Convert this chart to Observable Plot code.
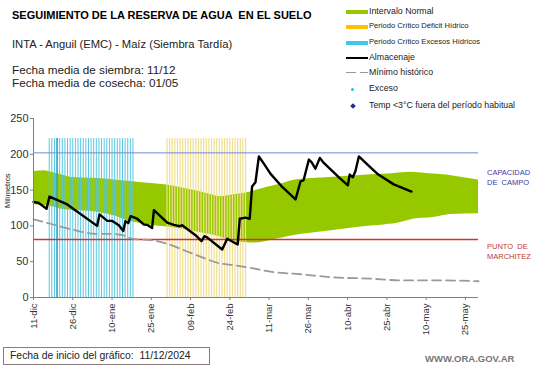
<!DOCTYPE html>
<html><head><meta charset="utf-8">
<script src="https://cdn.jsdelivr.net/npm/d3@7"></script>
<script src="https://cdn.jsdelivr.net/npm/@observablehq/plot@0.6"></script>
<style>
body{margin:0;background:#fff;font-family:"Liberation Sans",Arial,sans-serif;}
#wrap{position:relative;width:541px;height:368px;overflow:hidden;}
#wrap svg{position:absolute;left:0;top:0;}
.t{position:absolute;white-space:nowrap;line-height:1;color:#222;}
.sw{position:absolute;}
</style></head><body><div id="wrap"></div>
<script>
// ---- data (days counted from the chart start date 11/12/2024) ----
const startYear = 2024, startMonth = 11, startDay = 11;
const endDay = 170;
const tickDays = [0, 15, 30, 45, 60, 75, 90, 105, 120, 135, 150, 165];
const tickLabels = ["11-dic", "26-dic", "10-ene", "25-ene", "09-feb", "24-feb", "11-mar", "26-mar", "10-abr", "25-abr", "10-may", "25-may"];
const yTicks = [0, 50, 100, 150, 200, 250];

const storageDays = [0, 2, 5, 6.1, 12.9, 24.3, 25.2, 28.2, 30.1, 32.6, 34.3, 35.1, 36.2, 37.1, 39.6, 42.1, 43.4, 45.3, 46, 51.1, 53.6, 55.9, 56.8, 61.9, 64.2, 65.3, 66.3, 72.1, 74, 78, 78.8, 81, 82.6, 83.5, 84.8, 86.1, 88, 90.5, 94.6, 100.1, 102, 103.2, 105.2, 106.2, 107.7, 109.4, 110.9, 113.8, 116.9, 120.1, 120.8, 122, 123, 124.3, 127.5, 131.3, 137.6, 144.4];
const storageValues = [133.5, 132, 124, 141, 130, 100, 116, 107, 107, 101, 93, 106.5, 104, 113.5, 110, 102, 101.5, 97, 122, 104.7, 101.5, 99.5, 101, 87, 78.6, 85.6, 84, 67, 82, 74, 110, 111.5, 110, 155, 161, 197, 187, 173, 156, 137, 162, 164, 192.6, 189, 180, 195, 188, 178, 167, 156.7, 171.7, 168, 176.7, 197, 186, 173, 158, 148];

const normalUpperDays = [0, 4.5, 14, 26, 38, 51, 64, 70.5, 77, 83, 90.5, 95, 100, 113, 125, 137, 144, 151, 158, 170];
const normalUpper = [176, 177, 168, 166, 161.5, 157, 147.5, 141, 144, 147.5, 155, 159, 164, 167.5, 170.5, 173, 175, 173, 171, 164];
const normalLowerDays = [0, 5, 12, 24, 31, 37, 45, 51, 62, 70, 77, 84, 88, 91, 100, 113, 125, 133, 138, 146, 151, 159, 170];
const normalLower = [130, 128, 122.5, 119.5, 114, 106, 101, 98.6, 92, 86, 78, 76, 77.5, 80, 87, 93, 98.6, 101, 103, 110, 111, 116, 117];

const minDays = [0, 6.5, 14.7, 23.7, 29.5, 34, 38, 45, 51, 57.5, 64, 70.4, 76.8, 83, 90.5, 102, 115, 128, 140, 153, 170];
const minValues = [109, 103, 95, 89, 89, 87, 82, 80, 75, 66, 56.7, 48.3, 45, 41.3, 36, 32.5, 28, 26.5, 24, 24, 22.7];

const excessCritDays = [6, 7, 8, 9, 10, 11, 12, 13, 14, 15, 16, 17, 18, 19, 20, 21, 22, 23, 24, 25, 26, 27, 28, 29, 30, 31, 32, 33, 34, 35, 36, 37, 38];
const excessMarkDays = [9];
const deficitCritDays = [51, 52, 53, 54, 55, 56, 57, 58, 59, 60, 61, 62, 63, 64, 65, 66, 67, 68, 69, 70, 71, 72, 73, 74, 75, 76, 77, 78, 79, 80, 81];
const criticalTop = 222;
const fieldCapacity = 202;
const wiltingPoint = 81;

// ---- build ----
const t0 = Date.UTC(startYear, startMonth, startDay);
const dt = d => new Date(t0 + d * 864e5);
const labelByTime = new Map(tickDays.map((d, i) => [+dt(d), tickLabels[i]]));

const storage = storageDays.map((d, i) => ({date: dt(d), v: storageValues[i]}));
const normalDaysAll = Array.from(new Set([...normalUpperDays, ...normalLowerDays])).sort((a, b) => a - b);
const normal = normalDaysAll.map(d => ({
  date: dt(d),
  hi: d3.scaleLinear(normalUpperDays, normalUpper)(d),
  lo: d3.scaleLinear(normalLowerDays, normalLower)(d)
}));
const minimum = minDays.map((d, i) => ({date: dt(d), v: minValues[i]}));

const chart = Plot.plot({
  width: 541, height: 368,
  marginTop: 118, marginBottom: 71, marginLeft: 33, marginRight: 63,
  style: {fontFamily: "Liberation Sans, Arial, sans-serif", fontSize: "11px", color: "#333", background: "transparent"},
  x: {type: "utc", domain: [dt(0), dt(endDay)]},
  y: {domain: [0, 250]},
  marks: [
    Plot.areaY(normal, {x: "date", y1: "lo", y2: "hi", fill: "#96c800", curve: "monotone-x"}),
    Plot.ruleX(excessCritDays.map(dt), {y1: 0, y2: criticalTop, stroke: "#5ac7e1", strokeWidth: 1}),
    Plot.ruleX(excessMarkDays.map(dt), {y1: 0, y2: criticalTop, stroke: "#1a9fc4", strokeWidth: 1.3}),
    Plot.ruleX(deficitCritDays.map(dt), {y1: 0, y2: criticalTop, stroke: "#efdf8e", strokeWidth: 1.2}),
    Plot.ruleY([fieldCapacity], {stroke: "#6f8cd0", strokeWidth: 1}),
    Plot.ruleY([wiltingPoint], {stroke: "#d83030", strokeWidth: 1.4}),
    Plot.line(minimum, {x: "date", y: "v", stroke: "#9a9a9a", strokeWidth: 1.8, strokeDasharray: "9,5", curve: "monotone-x"}),
    Plot.line(storage, {x: "date", y: "v", stroke: "#000", strokeWidth: 2.4}),
    Plot.ruleX([dt(0)], {y1: 0, y2: 250, stroke: "#7f7f7f"}),
    Plot.ruleY([0], {stroke: "#7f7f7f"}),
    Plot.axisY({ticks: yTicks, tickSize: 3, tickPadding: 2, fontSize: 11, label: null, stroke: "#7f7f7f"}),
    Plot.axisX({ticks: tickDays.map(dt), tickFormat: d => labelByTime.get(+d), tickRotate: -90, tickSize: 3, tickPadding: 3, fontSize: 9.5, label: null, stroke: "#7f7f7f"}),
    Plot.text(["Milímetros"], {frameAnchor: "left", dx: -26, rotate: -90, fontSize: 7.5, fill: "#222"})
  ]
});
const wrap = document.getElementById("wrap");
wrap.appendChild(chart);

function addText(txt, left, top, css) {
  const el = document.createElement("div");
  el.className = "t";
  el.textContent = txt;
  el.style.left = left + "px";
  el.style.top = top + "px";
  Object.assign(el.style, css || {});
  wrap.appendChild(el);
  return el;
}
function addBox(left, top, w, h, css) {
  const el = document.createElement("div");
  el.className = "sw";
  Object.assign(el.style, {left: left + "px", top: top + "px", width: w + "px", height: h + "px"}, css || {});
  wrap.appendChild(el);
  return el;
}

// titles
addText("SEGUIMIENTO DE LA RESERVA DE AGUA  EN EL SUELO", 12, 10, {fontSize: "11px", fontWeight: "bold", color: "#000", whiteSpace: "pre"});
addText("INTA - Anguil (EMC) - Maíz (Siembra Tardía)", 12, 39, {fontSize: "11.2px", color: "#222"});
addText("Fecha media de siembra: 11/12", 12, 64, {fontSize: "11.7px"});
addText("Fecha media de cosecha: 01/05", 12, 77, {fontSize: "11.7px"});

// legend
const legendItems = ["Intervalo Normal", "Periodo Crítico Déficit Hídrico", "Periodo Crítico Excesos Hídricos", "Almacenaje", "Mínimo histórico", "Exceso", "Temp <3°C fuera del período habitual"];
const legendY = [11.7, 26.7, 42.7, 58.3, 72.7, 89.3, 106];
addBox(346, legendY[0] - 2, 22, 4, {background: "#96c800"});
addBox(346, legendY[1] - 2, 22, 4, {background: "#ffc000"});
addBox(346, legendY[2] - 2, 22, 4, {background: "#3ec6ec"});
addBox(346, legendY[3] - 1, 22, 2, {background: "#000"});
addBox(346, legendY[4] - 0.8, 10, 1.6, {background: "#9a9a9a"});
addBox(360, legendY[4] - 0.8, 8, 1.6, {background: "#9a9a9a"});
addBox(351, legendY[5] - 1.5, 3, 3, {background: "#33bbdd", borderRadius: "50%"});
addBox(350.6, legendY[6] - 2, 4, 4, {background: "#1f2f9f", transform: "rotate(45deg)"});
legendItems.forEach((s, i) => {
  const small = i === 1 || i === 2;
  addText(s, 369, legendY[i] - (small ? 4.3 : 5), {fontSize: small ? "7.6px" : "8.8px", color: "#222"});
});

// reference labels
addText("CAPACIDAD", 487, 168.5, {fontSize: "7.5px", color: "#3a3aa8"});
addText("DE  CAMPO", 487, 178.5, {fontSize: "7.5px", color: "#3a3aa8", whiteSpace: "pre"});
addText("PUNTO  DE", 487, 243, {fontSize: "7.5px", color: "#c0392b", whiteSpace: "pre"});
addText("MARCHITEZ", 487, 252.5, {fontSize: "7.5px", color: "#c0392b"});

// bottom
addBox(3, 347, 207, 18, {border: "1px solid #8a7b7b", boxSizing: "border-box"});
addText("Fecha de inicio del gráfico:  11/12/2024", 10, 351, {fontSize: "10.4px", color: "#222", whiteSpace: "pre"});
addText("WWW.ORA.GOV.AR", 425, 353.5, {fontSize: "9.5px", color: "#777", fontWeight: "bold"});
</script>
</body></html>
